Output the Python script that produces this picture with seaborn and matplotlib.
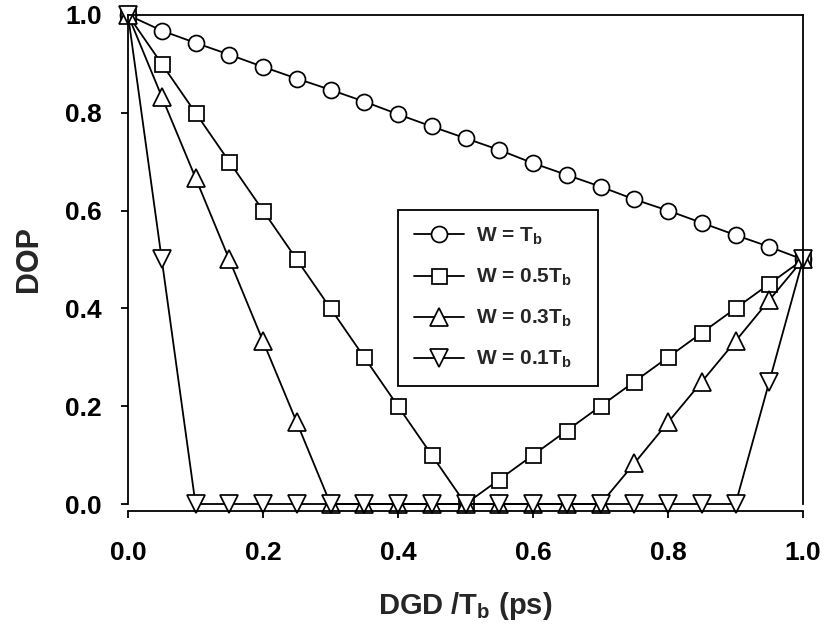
import matplotlib
matplotlib.use("Agg")
import matplotlib.pyplot as plt
import seaborn as sns
import numpy as np
import pandas as pd

dgd = [0.0, 0.05, 0.10, 0.15, 0.20, 0.25, 0.30, 0.35, 0.40, 0.45, 0.50,
       0.55, 0.60, 0.65, 0.70, 0.75, 0.80, 0.85, 0.90, 0.95, 1.0]
dop_w1 = [1.0, 0.968, 0.943, 0.919, 0.894, 0.870, 0.847, 0.823, 0.797, 0.772, 0.748,
          0.724, 0.697, 0.673, 0.649, 0.623, 0.600, 0.575, 0.550, 0.526, 0.5]
dop_w05 = [1.0, 0.9, 0.8, 0.7, 0.6, 0.5, 0.4, 0.3, 0.2, 0.1, 0.0,
           0.05, 0.1, 0.15, 0.2, 0.25, 0.3, 0.35, 0.4, 0.45, 0.5]
dop_w03 = [1.0, 0.833, 0.667, 0.5, 0.333, 0.167, 0.0, 0.0, 0.0, 0.0, 0.0,
           0.0, 0.0, 0.0, 0.0, 0.083, 0.167, 0.25, 0.333, 0.417, 0.5]
dop_w01 = [1.0, 0.5, 0.0, 0.0, 0.0, 0.0, 0.0, 0.0, 0.0, 0.0, 0.0,
           0.0, 0.0, 0.0, 0.0, 0.0, 0.0, 0.0, 0.0, 0.25, 0.5]
labels = [r"W = T$_\mathrm{b}$", r"W = 0.5T$_\mathrm{b}$",
          r"W = 0.3T$_\mathrm{b}$", r"W = 0.1T$_\mathrm{b}$"]
markers = ["o", "s", "^", "v"]
msizes = [11.5, 10.8, 12.5, 12.5]
ticks = [0.0, 0.2, 0.4, 0.6, 0.8, 1.0]
tick_labels = ["0.0", "0.2", "0.4", "0.6", "0.8", "1.0"]

sns.set_style("ticks")
plt.rcParams["font.family"] = ["Liberation Sans", "DejaVu Sans"]
plt.rcParams["font.weight"] = "bold"
plt.rcParams["mathtext.fontset"] = "custom"
plt.rcParams["mathtext.rm"] = "Liberation Sans:bold"
plt.rcParams["mathtext.it"] = "Liberation Sans:bold"
plt.rcParams["mathtext.bf"] = "Liberation Sans:bold"

fig = plt.figure(figsize=(8.27, 6.3), dpi=100)
ax = fig.add_axes([0.1548, 0.2, 0.8162, 0.7762])

series = [dop_w1, dop_w05, dop_w03, dop_w01]
for vals, lab, mk, ms in zip(series, labels, markers, msizes):
    df = pd.DataFrame({"DGD": dgd, "DOP": vals})
    sns.lineplot(data=df, x="DGD", y="DOP", ax=ax, color="black", linewidth=1.3,
                 marker=mk, markersize=ms, markerfacecolor="white",
                 markeredgecolor="black", markeredgewidth=1.25, clip_on=False,
                 label=lab, legend=False)

ax.set_xlim(0, 1)
ax.set_ylim(0, 1)
ax.set_xticks(ticks)
ax.set_xticklabels(tick_labels)
ax.set_yticks(ticks)
ax.set_yticklabels(tick_labels)
for s in ax.spines.values():
    s.set_linewidth(1.3)
    s.set_color("black")
ax.spines["bottom"].set_position(("outward", 5))
ax.tick_params(axis="both", direction="out", length=5, width=1.3, colors="black",
               labelsize=19)
ax.tick_params(axis="y", pad=14)
ax.tick_params(axis="x", pad=17)
ax.set_xlabel(r"DGD /T$_\mathrm{b}$ (ps)", fontsize=21, fontweight="bold", labelpad=18)
ax.set_ylabel("DOP", fontsize=22, fontweight="bold", labelpad=15)

leg = ax.legend(loc="upper left", bbox_to_anchor=(0.4, 0.247, 0.296, 0.354),
                mode="expand", fontsize=15,
                frameon=True, fancybox=False, framealpha=1, edgecolor="black",
                handlelength=2.4, handletextpad=0.6, labelspacing=0.95,
                borderpad=0.75, borderaxespad=0)
leg.get_frame().set_linewidth(1.3)
for t in leg.get_texts():
    t.set_fontweight("bold")

fig.savefig("out.png", dpi=100, facecolor="white")
